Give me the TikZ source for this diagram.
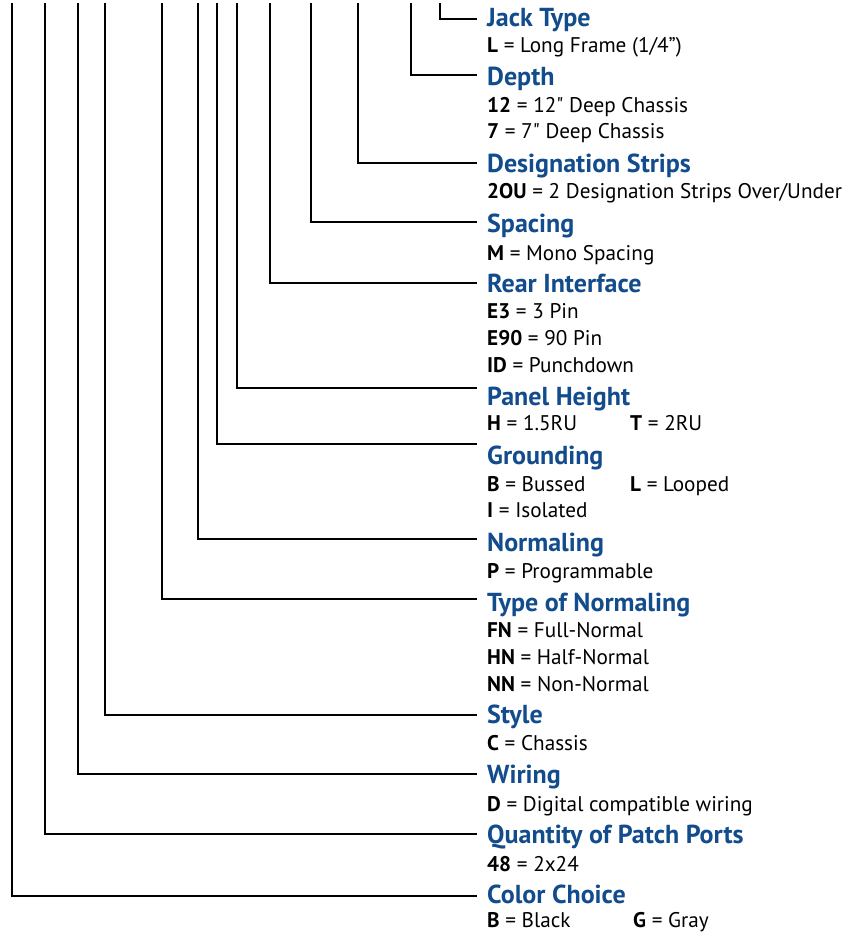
\documentclass[tikz,border=0pt]{standalone}
\usepackage{fontspec}
\setmainfont{PT Sans}[Ligatures=TeXOff]
\usepackage{tikz}
\usetikzlibrary{calc}
\definecolor{headblue}{RGB}{18,76,140}

\tikzset{
  leader/.style = {line width = 2pt, black},
  head/.style = {anchor = base west, inner sep = 0pt, text = headblue, font = \fontsize{26}{28}\selectfont\bfseries},
  body/.style = {anchor = base west, inner sep = 0pt, font = \fontsize{21.2}{23}\selectfont}
}

\begin{document}
\begin{tikzpicture}[x = 1pt, y = -1pt]
\useasboundingbox (0,0) rectangle (849,932);
% headings
\node[head] (jack) at (487,26) {Jack Type};
\node[head] (depth) at (487,85) {Depth};
\node[head] (desig) at (487,172) {Designation Strips};
\node[head] (spacing) at (487,232) {Spacing};
\node[head] (rear) at (487,292) {Rear Interface};
\node[head] (panel) at (487,405) {Panel Height};
\node[head] (ground) at (487,464) {Grounding};
\node[head] (normal) at (487,551) {Normaling};
\node[head] (ntype) at (487,611) {Type of Normaling};
\node[head] (style) at (487,723) {Style};
\node[head] (wiring) at (487,783) {Wiring};
\node[head] (qty) at (487,843) {Quantity of Patch Ports};
\node[head] (color) at (487,903) {Color Choice};
% options
\node[body] (jackL) at (487,52) {\textbf{L} = Long Frame (1/4”)};
\node[body] (depth12) at (487,112) {\textbf{12} = 12" Deep Chassis};
\node[body] (depth7) at (487,138) {\textbf{7} = 7" Deep Chassis};
\node[body] (desig2OU) at (487,198) {\textbf{2OU} = 2 Designation Strips Over/Under};
\node[body] (spacingM) at (487,260) {\textbf{M} = Mono Spacing};
\node[body] (rearE3) at (487,318) {\textbf{E3} = 3 Pin};
\node[body] (rearE90) at (487,345) {\textbf{E90} = 90 Pin};
\node[body] (rearID) at (487,372) {\textbf{ID} = Punchdown};
\node[body] (panelH) at (487,430) {\textbf{H} = 1.5RU};
\node[body] (panelT) at (630,430) {\textbf{T} = 2RU};
\node[body] (groundB) at (487,491) {\textbf{B} = Bussed};
\node[body] (groundL) at (630,491) {\textbf{L} = Looped};
\node[body] (groundI) at (487,517) {\textbf{I} = Isolated};
\node[body] (normalP) at (487,578) {\textbf{P} = Programmable};
\node[body] (ntypeFN) at (487,637) {\textbf{FN} = Full-Normal};
\node[body] (ntypeHN) at (487,664) {\textbf{HN} = Half-Normal};
\node[body] (ntypeNN) at (487,691) {\textbf{NN} = Non-Normal};
\node[body] (styleC) at (487,750) {\textbf{C} = Chassis};
\node[body] (wiringD) at (487,811) {\textbf{D} = Digital compatible wiring};
\node[body] (qty48) at (487,871) {\textbf{48} = 2x24};
\node[body] (colorB) at (487,927) {\textbf{B} = Black};
\node[body] (colorG) at (633,927) {\textbf{G} = Gray};
% leader lines: top end and elbow end
\coordinate (jackT) at (440,3);    \coordinate (jackE) at (477,19);
\coordinate (depthT) at (411,3);   \coordinate (depthE) at (477,75);
\coordinate (desigT) at (358,3);   \coordinate (desigE) at (477,163);
\coordinate (spacingT) at (311,3); \coordinate (spacingE) at (477,222);
\coordinate (rearT) at (270,3);    \coordinate (rearE) at (477,283);
\coordinate (panelT) at (237,3);   \coordinate (panelE) at (477,388);
\coordinate (groundT) at (217,3);  \coordinate (groundE) at (477,444);
\coordinate (normalT) at (198,3);  \coordinate (normalE) at (477,539);
\coordinate (ntypeT) at (162,3);   \coordinate (ntypeE) at (477,599);
\coordinate (styleT) at (105,3);   \coordinate (styleE) at (477,715);
\coordinate (wiringT) at (78,3);   \coordinate (wiringE) at (477,774);
\coordinate (qtyT) at (45,3);      \coordinate (qtyE) at (477,834);
\coordinate (colorT) at (12,3);    \coordinate (colorE) at (477,896);
\draw[leader] (jackT) |- (jackE);
\draw[leader] (depthT) |- (depthE);
\draw[leader] (desigT) |- (desigE);
\draw[leader] (spacingT) |- (spacingE);
\draw[leader] (rearT) |- (rearE);
\draw[leader] (panelT) |- (panelE);
\draw[leader] (groundT) |- (groundE);
\draw[leader] (normalT) |- (normalE);
\draw[leader] (ntypeT) |- (ntypeE);
\draw[leader] (styleT) |- (styleE);
\draw[leader] (wiringT) |- (wiringE);
\draw[leader] (qtyT) |- (qtyE);
\draw[leader] (colorT) |- (colorE);
\end{tikzpicture}
\end{document}
